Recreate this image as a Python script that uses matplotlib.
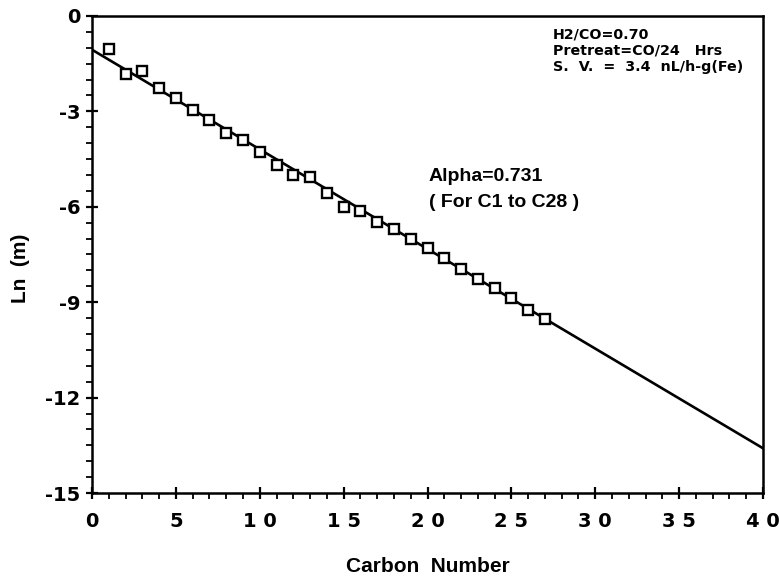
import numpy as np
import matplotlib.pyplot as plt
from matplotlib.ticker import MultipleLocator, FuncFormatter

# carbon number vs ln(mole fraction)
carbon_number = [1, 2, 3, 4, 5, 6, 7, 8, 9, 10, 11, 12, 13, 14,
                 15, 16, 17, 18, 19, 20, 21, 22, 23, 24, 25, 26, 27]
ln_m = [-1.04, -1.83, -1.74, -2.25, -2.59, -2.95, -3.27, -3.69, -3.91,
        -4.28, -4.69, -5.00, -5.06, -5.58, -6.00, -6.12, -6.48, -6.71,
        -7.01, -7.29, -7.61, -7.95, -8.26, -8.55, -8.86, -9.26, -9.54]

# ASF fit line
alpha = 0.731
intercept = -1.06
fit_x = np.array([0, 40])
fit_y = intercept + np.log(alpha) * fit_x

plt.rcParams['font.family'] = ['DejaVu Sans']
plt.rcParams['axes.unicode_minus'] = False
narrow = 'Liberation Sans'

fig = plt.figure(figsize=(7.79, 5.86), dpi=100)
ax = fig.add_axes([0.1181, 0.1587, 0.8614, 0.8140])

ax.plot(fit_x, fit_y, color='black', linewidth=1.9, zorder=2)
ax.plot(carbon_number, ln_m, linestyle='none', marker='s', markersize=6.5,
        markerfacecolor='white', markeredgecolor='black', markeredgewidth=1.7,
        zorder=3)

ax.set_xlim(0, 40)
ax.set_ylim(-15, 0)
ax.xaxis.set_major_locator(MultipleLocator(5))
ax.xaxis.set_minor_locator(MultipleLocator(1))
ax.yaxis.set_major_locator(MultipleLocator(3))
ax.yaxis.set_minor_locator(MultipleLocator(0.5))
# spaced-out digits on the carbon number axis
ax.xaxis.set_major_formatter(FuncFormatter(lambda v, p: ' '.join(str(int(v)))))

ax.tick_params(which='major', direction='inout', length=9, width=1.6,
               labelsize=14)
ax.tick_params(axis='x', which='major', pad=9)
ax.tick_params(axis='y', which='major', pad=4)
ax.tick_params(which='minor', direction='out', length=4, width=1.3)
for lab in ax.get_xticklabels() + ax.get_yticklabels():
    lab.set_fontweight('bold')

for s in ax.spines.values():
    s.set_linewidth(1.8)

ax.set_xlabel('Carbon  Number', fontsize=15, fontweight='bold',
              family=narrow, labelpad=19)
ax.set_ylabel('Ln  (m)', fontsize=15, fontweight='bold', family=narrow)
ax.yaxis.set_label_coords(-0.092, 0.472)

notes = ['H2/CO=0.70', 'Pretreat=CO/24   Hrs', 'S.  V.  =  3.4  nL/h-g(Fe)']
for i, note in enumerate(notes):
    ax.text(0.687, 0.962 - i * 0.034, note, transform=ax.transAxes,
            fontsize=10.3, fontweight='bold', va='center', ha='left')

ax.text(0.502, 0.664, 'Alpha=0.731', transform=ax.transAxes,
        fontsize=14, fontweight='bold', family=narrow, va='center', ha='left')
ax.text(0.502, 0.610, '( For C1 to C28 )', transform=ax.transAxes,
        fontsize=14, fontweight='bold', family=narrow, va='center', ha='left')

fig.savefig('out.png', dpi=100)
